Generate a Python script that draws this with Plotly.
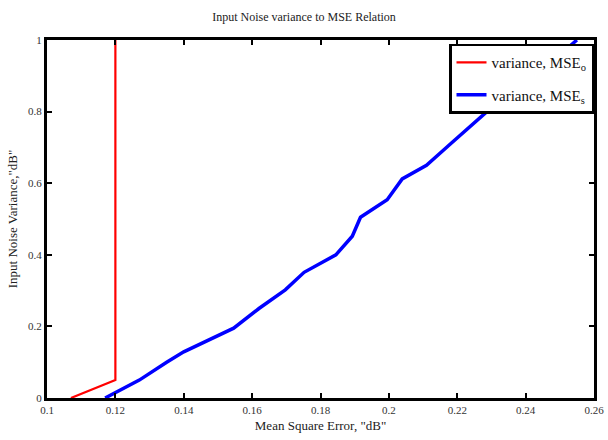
import plotly.graph_objects as go

mse_o = [0.107, 0.120, 0.120]
var_o = [0.0, 0.05, 1.0]

mse_s = [0.117, 0.127, 0.135, 0.140, 0.1546, 0.162, 0.1697, 0.1752, 0.1845, 0.1893, 0.1917,
         0.1995, 0.2039, 0.211, 0.2179, 0.224, 0.2295, 0.236, 0.243, 0.249, 0.255]
var_s = [0.0, 0.05, 0.10, 0.129, 0.195, 0.25, 0.302, 0.351, 0.40, 0.452, 0.505,
         0.554, 0.612, 0.65, 0.709, 0.76, 0.807, 0.85, 0.9, 0.95, 1.0]

x_ticks = [0.1, 0.12, 0.14, 0.16, 0.18, 0.2, 0.22, 0.24, 0.26]
x_labels = ["0.1", "0.12", "0.14", "0.16", "0.18", "0.2", "0.22", "0.24", "0.26"]
y_ticks = [0, 0.2, 0.4, 0.6, 0.8, 1]
y_labels = ["0", "0.2", "0.4", "0.6", "0.8", "1"]

font = "Liberation Serif, DejaVu Serif, serif"

fig = go.Figure()
fig.add_trace(go.Scatter(x=mse_o, y=var_o, mode="lines", name="variance, MSE<sub>o</sub>",
                         legendgroup="o",
                         line=dict(color="#ff0000", width=2.2)))
fig.add_trace(go.Scatter(x=mse_s, y=var_s, mode="lines", name="variance, MSE<sub>s</sub>",
                         legendgroup="s",
                         line=dict(color="#0000ff", width=3.5)))

axis_common = dict(showline=True, linecolor="black", linewidth=3, mirror="ticks",
                   ticks="inside", ticklen=5, tickwidth=2, tickcolor="black",
                   showgrid=False, zeroline=False, automargin=False,
                   tickfont=dict(family=font, size=11, color="#333"))

fig.update_layout(
    width=608, height=440,
    margin=dict(l=47, r=14, t=40, b=42, autoexpand=False),
    paper_bgcolor="white", plot_bgcolor="white",
    title=dict(text="Input Noise variance to MSE Relation", x=0.5, xanchor="center",
               y=1 - 17 / 440, yanchor="middle",
               font=dict(family=font, size=12, color="#222")),
    xaxis=dict(range=[0.1, 0.26], tickvals=x_ticks, ticktext=x_labels,
               title=dict(text='Mean Square Error, "dB"', standoff=6,
                          font=dict(family=font, size=13, color="#222")),
               **axis_common),
    yaxis=dict(range=[0, 1], tickvals=y_ticks, ticktext=y_labels,
               title=dict(text='Input Noise Variance,"dB"', standoff=8,
                          font=dict(family=font, size=13, color="#222")),
               **axis_common),
    legend=dict(x=1, y=0.99, xanchor="right", yanchor="top",
                bgcolor="white", bordercolor="black", borderwidth=2.5,
                font=dict(family=font, size=15, color="#111"),
                itemwidth=30, tracegroupgap=10),
    showlegend=True,
)

fig.write_html("out.html")
